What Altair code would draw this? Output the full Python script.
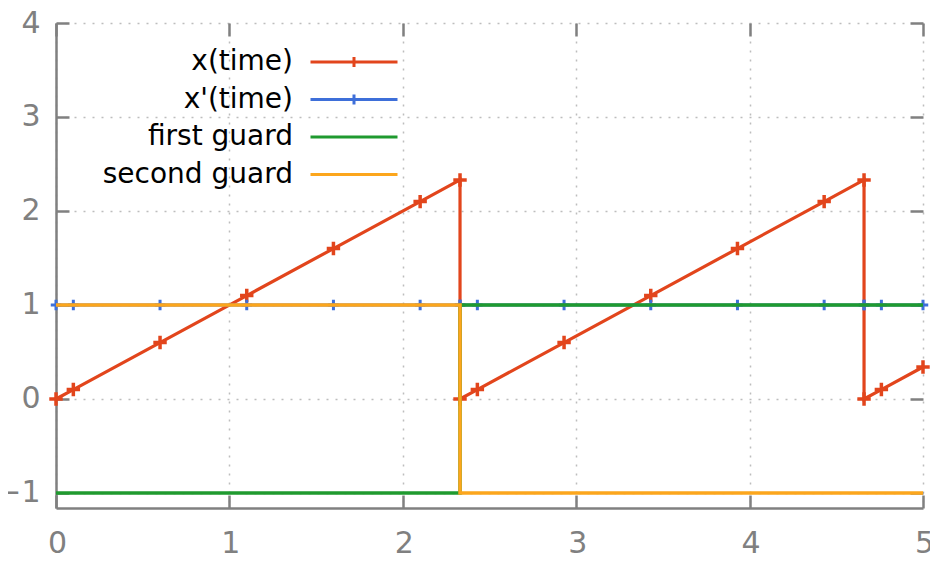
import altair as alt
import pandas as pd

# ---- data ----
time_pts = [0, 0.1, 0.6, 1.1, 1.6, 2.1, 2.33, 2.33, 2.43, 2.93, 3.43, 3.93, 4.43, 4.66, 4.66, 4.76, 5.0]
x_vals = [0, 0.1, 0.6, 1.1, 1.6, 2.1, 2.33, 0, 0.1, 0.6, 1.1, 1.6, 2.1, 2.33, 0, 0.1, 0.34]
xdot_vals = [1, 1, 1, 1, 1, 1, 1, 1, 1, 1, 1, 1, 1, 1, 1, 1, 1]
guard_time = [0, 2.33, 2.33, 5]
first_guard = [-1, -1, 1, 1]
second_guard = [1, 1, -1, -1]

series_names = ["x(time)", "x'(time)", "first guard", "second guard"]
series_colors = ["#e2451c", "#3e6fd9", "#1f9a2f", "#fca61c"]
x_ticks = [0, 1, 2, 3, 4, 5]
y_ticks = [-1, 0, 1, 2, 3, 4]

rows = []
i = 0
for t, v in zip(time_pts, x_vals):
    rows.append({"t": t, "v": v, "s": series_names[0], "i": i}); i += 1
for t, v in zip(time_pts, xdot_vals):
    rows.append({"t": t, "v": v, "s": series_names[1], "i": i}); i += 1
for t, v in zip(guard_time, first_guard):
    rows.append({"t": t, "v": v, "s": series_names[2], "i": i}); i += 1
for t, v in zip(guard_time, second_guard):
    rows.append({"t": t, "v": v, "s": series_names[3], "i": i}); i += 1
df = pd.DataFrame(rows)

W, H = 867, 485
FONT = "DejaVu Sans"
GRAY = "#808080"
PLUS = "M-1,0L1,0M0,-1L0,1"

xscale = alt.Scale(domain=[0, 5], nice=False, zero=False)
yscale = alt.Scale(domain=[-1.16, 4], nice=False, zero=False)
cscale = alt.Scale(domain=series_names, range=series_colors)

legend = alt.Legend(
    title=None, orient="none", legendX=253, legendY=23, padding=0,
    labelFont=FONT, labelFontSize=28, labelColor="#000000", labelAlign="right",
    labelOffset={"expr": "-48"}, labelLimit=400,
    symbolType={"expr": "indexof(['first guard','second guard'], datum.value) >= 0 ? 'M-1,0L5,0' : 'M-1,0L5,0M2,-0.35L2,0.35'"},
    symbolSize=841, symbolStrokeWidth=3,
    rowPadding=7.5,
)

x_main = alt.Axis(orient="bottom", values=x_ticks, format="d", title=None,
                  labelFont=FONT, labelFontSize=30, labelColor=GRAY, labelPadding=20,
                  labelFlush=False, labelOverlap=False, labelOffset=1,
                  ticks=False, tickSize=0, domainColor=GRAY, domainWidth=2.5,
                  grid=True, gridColor="#bdbdbd", gridDash=[2, 7], gridWidth=1.5)
y_main = alt.Axis(orient="left", values=y_ticks, format="d", title=None,
                  labelFont=FONT, labelFontSize=30, labelColor=GRAY, labelPadding=16,
                  labelFlush=False, labelOverlap=False,
                  ticks=False, tickSize=0, domainColor=GRAY, domainWidth=2.5,
                  grid=True, gridColor="#bdbdbd", gridDash=[2, 7], gridWidth=1.5)


def tick_axis(orient, offset, values):
    return alt.Axis(orient=orient, offset=offset, values=values, title=None,
                    labels=False, domain=False, grid=False, ticks=True,
                    tickSize=13, tickWidth=2.5, tickColor=GRAY)


def base(name):
    return alt.Chart(df).transform_filter(alt.datum.s == name)


red_line = base(series_names[0]).mark_line(strokeWidth=3.2).encode(
    x=alt.X("t:Q", scale=xscale, axis=x_main),
    y=alt.Y("v:Q", scale=yscale, axis=y_main),
    color=alt.Color("s:N", scale=cscale, legend=legend),
    order=alt.Order("i:Q"),
)
red_pts = base(series_names[0]).mark_point(shape=PLUS, size=180, filled=False, strokeWidth=3.5, opacity=1).encode(
    x=alt.X("t:Q", scale=xscale, axis=tick_axis("top", -H, x_ticks)),
    y=alt.Y("v:Q", scale=yscale, axis=tick_axis("right", -W, y_ticks)),
    color=alt.Color("s:N", scale=cscale, legend=None),
)
blue_line = base(series_names[1]).mark_line(strokeWidth=3.2).encode(
    x=alt.X("t:Q", scale=xscale, axis=tick_axis("bottom", -H, x_ticks)),
    y=alt.Y("v:Q", scale=yscale, axis=tick_axis("left", -W, y_ticks)),
    color=alt.Color("s:N", scale=cscale, legend=None),
    order=alt.Order("i:Q"),
)
blue_pts = base(series_names[1]).mark_point(shape=PLUS, size=110, filled=False, strokeWidth=3, opacity=1).encode(
    x=alt.X("t:Q", scale=xscale, axis=None),
    y=alt.Y("v:Q", scale=yscale, axis=None),
    color=alt.Color("s:N", scale=cscale, legend=None),
)
green_line = base(series_names[2]).mark_line(strokeWidth=3.5).encode(
    x=alt.X("t:Q", scale=xscale, axis=None),
    y=alt.Y("v:Q", scale=yscale, axis=None),
    color=alt.Color("s:N", scale=cscale, legend=None),
    order=alt.Order("i:Q"),
)
orange_line = base(series_names[3]).mark_line(strokeWidth=3.5).encode(
    x=alt.X("t:Q", scale=xscale, axis=None),
    y=alt.Y("v:Q", scale=yscale, axis=None),
    color=alt.Color("s:N", scale=cscale, legend=None),
    order=alt.Order("i:Q"),
)

chart = alt.layer(
    red_line, red_pts, blue_line, blue_pts, green_line, orange_line
).resolve_axis(
    x="independent", y="independent"
).properties(
    width=W, height=H,
    autosize=alt.AutoSizeParams(type="none"),
    padding={"left": 48, "top": 15, "right": 7, "bottom": 48},
    background="#ffffff",
).configure_view(stroke=None)

chart.save("out.html", embed_options={"renderer": "svg", "actions": False})
